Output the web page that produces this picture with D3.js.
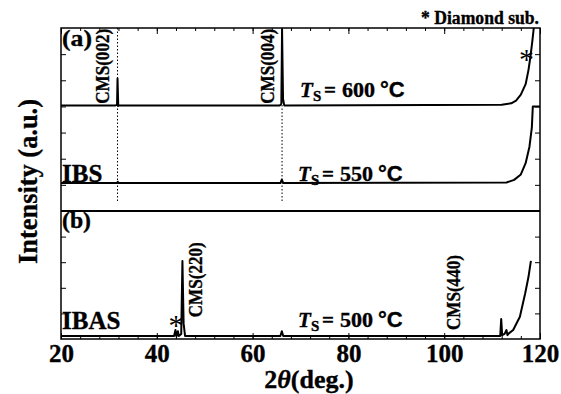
<!DOCTYPE html>
<html>
<head>
<meta charset="utf-8">
<script src="https://cdn.jsdelivr.net/npm/d3@7"></script>
<style>
  body { margin: 0; background: #fff; }
  text { font-family: "Liberation Serif", "Times New Roman", serif; font-weight: bold; fill: #000; stroke: #000; stroke-width: 0.35px; }
</style>
</head>
<body>
<div id="chart"></div>
<script>
// x tick labels (deg)
const xTicks = [20, 40, 60, 80, 100, 120];

// (a) Ts = 600 C  [2theta, intensity]
const traceA = [
  [20, 4.04], [31.4, 4.04], [31.7, 4.06], [31.8, 5.07], [31.95, 4.02], [32.3, 4.04],
  [65.7, 4.04], [66.0, 4.1], [66.15, 6.95], [66.35, 4.3], [66.6, 4.04],
  [112, 4.06], [114, 4.12], [115, 4.22], [116, 4.45], [117, 4.85], [117.6, 5.4],
  [118, 5.9], [118.4, 6.5], [118.7, 7.0]
];

// IBS Ts = 550 C
const traceIBS = [
  [20, 1.07], [31.7, 1.07], [31.85, 1.12], [32.0, 1.07], [65.8, 1.07], [66.1, 1.2], [66.4, 1.07],
  [113, 1.09], [114.6, 1.19], [116, 1.4], [117, 1.83], [117.8, 2.46], [118.3, 3.2],
  [118.5, 4.0], [120, 4.0]
];

// IBAS Ts = 500 C
const traceIBAS = [
  [20, 0.12], [43.6, 0.12], [43.9, 0.35], [44.1, 0.1], [44.4, 0.3], [44.6, 0.12],
  [45.1, 0.2], [45.35, 3.05], [45.6, 0.6], [45.9, 0.12], [65.8, 0.12], [66.1, 0.3],
  [66.4, 0.12], [111.7, 0.12], [111.9, 0.78], [112.1, 0.15], [112.6, 0.2], [113, 0.35],
  [113.2, 0.15], [113.5, 0.22], [114.4, 0.35], [115.8, 0.87], [116.9, 1.78],
  [117.6, 2.43], [118.1, 3.05]
];

// peak markers (deg)
const dottedPeaks = [31.8, 66.15];
const peakNames = ["CMS(002)", "CMS(004)", "CMS(220)", "CMS(440)"];
const tempLabels = ["600", "550", "500"];

const width = 561, height = 394;
const margin = { top: 28, right: 21, bottom: 55, left: 61 };
const split = 211; // y of the panel divider

const svg = d3.select("#chart").append("svg")
  .attr("width", width)
  .attr("height", height);

const x = d3.scaleLinear().domain([20, 120]).range([margin.left, width - margin.right]);
const yTop = d3.scaleLinear().domain([0, 7]).range([split, margin.top]);
const yBot = d3.scaleLinear().domain([0, 5]).range([height - margin.bottom, split]);

const minorX = d3.range(20, 121, 4);

// top ticks (inside)
svg.append("g")
  .attr("transform", `translate(0,${margin.top})`)
  .call(d3.axisTop(x).tickValues(minorX).tickSize(-3).tickFormat(""))
  .call(g => g.select(".domain").remove());
svg.append("g")
  .attr("transform", `translate(0,${margin.top})`)
  .call(d3.axisTop(x).tickValues(xTicks).tickSize(-6).tickFormat(""))
  .call(g => g.select(".domain").remove());

// bottom ticks + labels
svg.append("g")
  .attr("transform", `translate(0,${height - margin.bottom})`)
  .call(d3.axisBottom(x).tickValues(minorX).tickSize(-3).tickFormat(""))
  .call(g => g.select(".domain").remove());
svg.append("g")
  .attr("transform", `translate(0,${height - margin.bottom})`)
  .call(d3.axisBottom(x).tickValues(xTicks).tickSize(-6).tickPadding(5).tickFormat(d3.format("d")))
  .call(g => g.select(".domain").remove())
  .call(g => g.selectAll("text")
    .style("font-family", "'Liberation Serif', serif")
    .style("font-weight", "bold")
    .style("font-size", "25px")
    .attr("fill", "#000"));

// side ticks
[[yTop, [1, 2, 3, 4, 5, 6]], [yBot, [1, 2, 3, 4]]].forEach(([sc, vals]) => {
  svg.append("g")
    .attr("transform", `translate(${margin.left},0)`)
    .call(d3.axisLeft(sc).tickValues(vals).tickSize(-5).tickFormat(""))
    .call(g => g.select(".domain").remove());
  svg.append("g")
    .attr("transform", `translate(${width - margin.right},0)`)
    .call(d3.axisRight(sc).tickValues(vals).tickSize(-5).tickFormat(""))
    .call(g => g.select(".domain").remove());
});

svg.selectAll(".tick line").attr("stroke", "#000").attr("stroke-width", 1);

// dotted guide lines
svg.selectAll("line.guide")
  .data(dottedPeaks)
  .join("line")
  .attr("class", "guide")
  .attr("x1", d => x(d)).attr("x2", d => x(d))
  .attr("y1", margin.top).attr("y2", split - 8)
  .attr("stroke", "#000")
  .attr("stroke-width", 1)
  .attr("stroke-dasharray", "1.5,2");

// traces
const lineTop = d3.line().x(d => x(d[0])).y(d => yTop(d[1]));
const lineBot = d3.line().x(d => x(d[0])).y(d => yBot(d[1]));

[traceA, traceIBS].forEach(t => {
  svg.append("path")
    .datum(t)
    .attr("d", lineTop)
    .attr("fill", "none")
    .attr("stroke", "#000")
    .attr("stroke-width", 2)
    .attr("stroke-linejoin", "round");
});
svg.append("path")
  .datum(traceIBAS)
  .attr("d", lineBot)
  .attr("fill", "none")
  .attr("stroke", "#000")
  .attr("stroke-width", 2)
  .attr("stroke-linejoin", "round");

// frame and divider
svg.append("rect")
  .attr("x", margin.left).attr("y", margin.top)
  .attr("width", x(120) - x(20)).attr("height", yBot(0) - margin.top)
  .attr("fill", "none").attr("stroke", "#000").attr("stroke-width", 1.5);
svg.append("line")
  .attr("x1", margin.left).attr("x2", x(120))
  .attr("y1", split).attr("y2", split)
  .attr("stroke", "#000").attr("stroke-width", 2);

// panel labels
svg.append("text").attr("x", 62).attr("y", 46).attr("textLength", 30).attr("lengthAdjust", "spacingAndGlyphs")
  .style("font-size", "23px").text("(a)");
svg.append("text").attr("x", 62).attr("y", 228).attr("textLength", 29).attr("lengthAdjust", "spacingAndGlyphs")
  .style("font-size", "23px").text("(b)");
svg.append("text").attr("x", 62).attr("y", 182).style("font-size", "25px").text("IBS");
svg.append("text").attr("x", 62).attr("y", 329).style("font-size", "25px").text("IBAS");

// peak names (rotated)
const peakPos = [
  [x(31.8) - 9, yTop(4.1)],
  [x(66.15) - 8, yTop(4.1)],
  [x(45.35) + 20, yBot(0.85)],
  [x(101) + 11, yBot(0.35)]
];
svg.selectAll("text.peak")
  .data(peakNames)
  .join("text")
  .attr("class", "peak")
  .attr("transform", (d, i) => `translate(${peakPos[i][0]},${peakPos[i][1]}) rotate(-90)`)
  .attr("textLength", 75)
  .attr("lengthAdjust", "spacingAndGlyphs")
  .style("font-size", "18px")
  .text(d => d);

// substrate markers
svg.append("text").attr("x", x(117.2)).attr("y", yTop(5.45))
  .attr("text-anchor", "middle")
  .style("font-weight", "normal").style("stroke-width", "0px").style("font-size", "30px").text("*");
svg.append("text").attr("x", x(44.0)).attr("y", yBot(0.17))
  .attr("text-anchor", "middle")
  .style("font-weight", "normal").style("stroke-width", "0px").style("font-size", "30px").text("*");
svg.append("text").attr("x", 539).attr("y", 24)
  .attr("text-anchor", "end")
  .attr("textLength", 118).attr("lengthAdjust", "spacingAndGlyphs")
  .style("font-size", "18px").text("* Diamond sub.");

// substrate temperature labels
const tempPos = [[300, 97], [298, 181], [298, 327]];
tempLabels.forEach((t, i) => {
  const [tx0, ty0] = tempPos[i];
  const tx = svg.append("text").attr("y", ty0).style("font-size", "21px");
  tx.append("tspan").attr("x", tx0).style("font-style", "italic").text("T");
  tx.append("tspan").attr("x", tx0 + 13).attr("dy", 4).style("font-size", "15px").text("S");
  tx.append("tspan").attr("x", tx0 + 24).attr("dy", -4).text("=");
  tx.append("tspan").attr("x", tx0 + 42).attr("textLength", 33).attr("lengthAdjust", "spacingAndGlyphs").text(t);
  tx.append("tspan").attr("x", tx0 + 80)
    .style("font-family", "'Liberation Sans', Arial, sans-serif").style("font-size", "22px").text("°C");
});

// axis titles
svg.append("text")
  .attr("transform", `translate(37,${(margin.top + yBot(0)) / 2 - 2}) rotate(-90)`)
  .attr("text-anchor", "middle")
  .style("font-size", "27px")
  .attr("textLength", 165).attr("lengthAdjust", "spacingAndGlyphs")
  .text("Intensity (a.u.)");

const xt = svg.append("text")
  .attr("x", 309).attr("y", 388)
  .attr("text-anchor", "middle")
  .style("font-size", "26px");
xt.append("tspan").text("2");
xt.append("tspan").style("font-style", "italic").text("θ");
xt.append("tspan").text("(deg.)");
</script>
</body>
</html>
